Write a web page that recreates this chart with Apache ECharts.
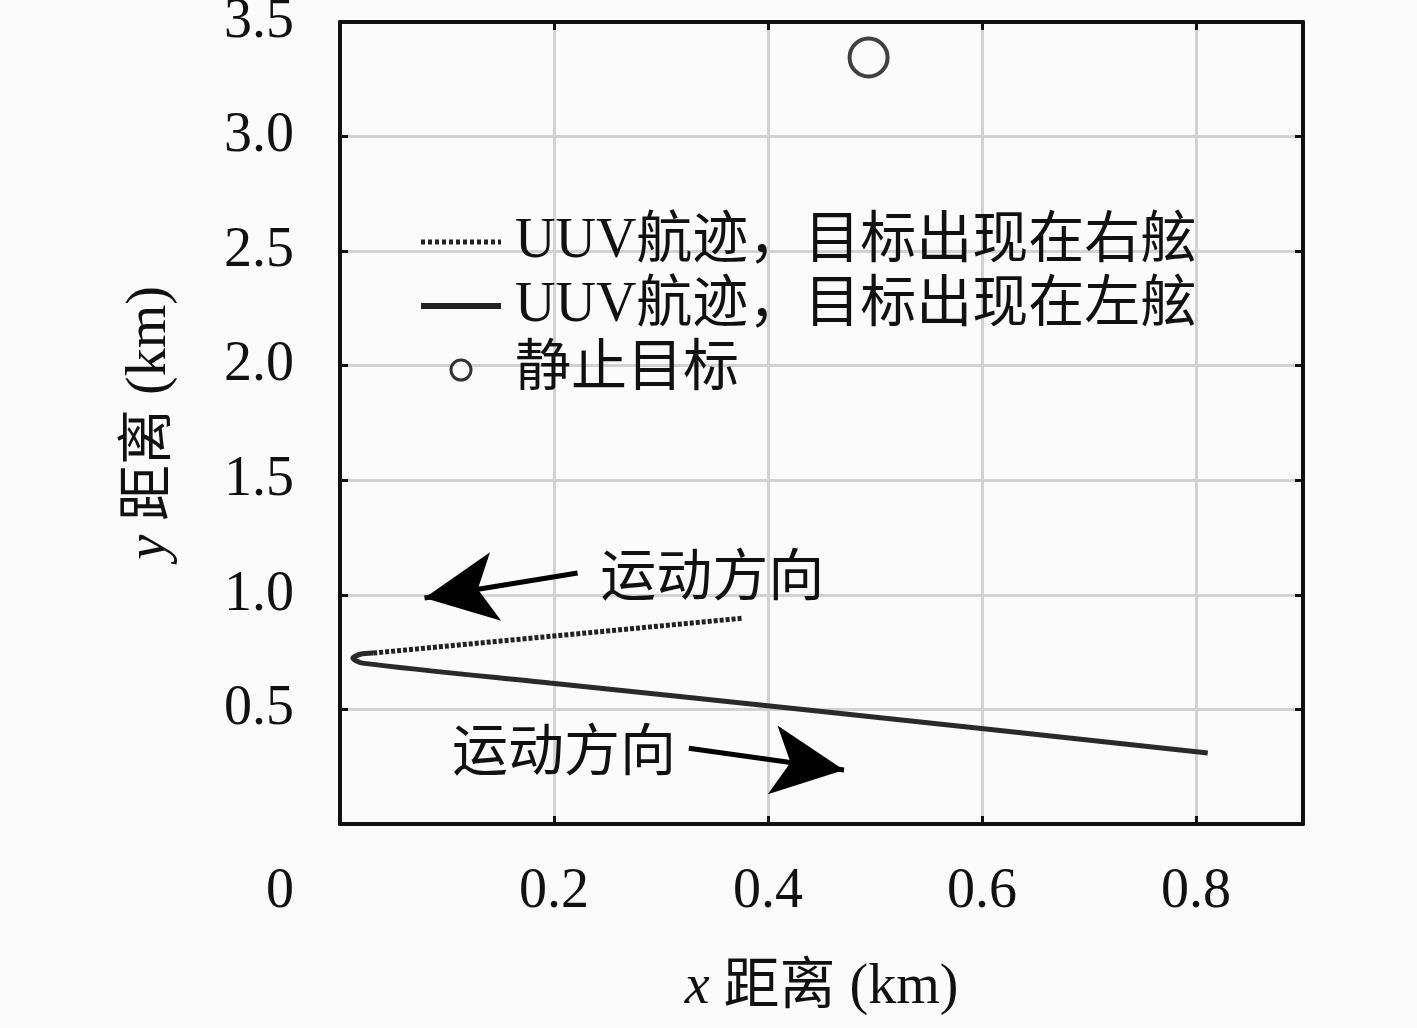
<!DOCTYPE html>
<html>
<head>
<meta charset="utf-8">
<script src="https://cdn.jsdelivr.net/npm/echarts@6/dist/echarts.min.js"></script>
<style>
html, body { margin: 0; padding: 0; background: #fbfbfb; }
#main { width: 1417px; height: 1028px; }
</style>
</head>
<body>
<div id="main"></div>
<script>
// data (km)
var seriesNames = ['UUV航迹，目标出现在右舷', 'UUV航迹，目标出现在左舷', '静止目标'];
var rightX = [0.031, 0.199, 0.376];
var rightY = [0.746, 0.820, 0.898];
var leftX = [0.811, 0.457, 0.196, 0.021, 0.012, 0.019, 0.031];
var leftY = [0.310, 0.488, 0.615, 0.702, 0.724, 0.741, 0.746];
var targetX = [0.494];
var targetY = [3.345];
var arrowText = '运动方向';
var arrowTail = [[0.222, 1.095], [0.326, 0.331]];
var arrowTip = [[0.079, 0.986], [0.471, 0.236]];
var xName = 'x';
var yName = 'y';
var axisText = ' 距离 (km)';

var serif = '"Liberation Serif", "DejaVu Serif", "Noto Sans CJK SC", serif';
var cjk = '"Liberation Serif", "Noto Sans CJK SC", sans-serif';
var ink = '#111';
var bg = '#fbfbfb';

function pairs(xs, ys) {
    var out = [];
    for (var i = 0; i < xs.length; i++) out.push([xs[i], ys[i]]);
    return out;
}

var mChart = echarts.init(document.getElementById('main'));

var arrows = [];
for (var i = 0; i < arrowTail.length; i++) {
    arrows.push([{coord: arrowTail[i]}, {coord: arrowTip[i]}]);
}

// box around the plot: the axes on all four sides, ticks inside
function boxAxis(pos) {
    return {
        type: 'value',
        position: pos,
        axisLine: {onZero: false, lineStyle: {color: ink, width: 4}},
        axisTick: {inside: true, length: 8, lineStyle: {color: ink, width: 3}},
        axisLabel: {show: false},
        splitLine: {show: false}
    };
}
var xTop = boxAxis('top');
xTop.min = 0; xTop.max = 0.9; xTop.interval = 0.2;
var yRight = boxAxis('right');
yRight.min = 0; yRight.max = 3.5; yRight.interval = 0.5;

var option = {
    backgroundColor: bg,
    animation: false,
    grid: {left: 340, right: 114, top: 22, bottom: 204, outerBoundsMode: 'none', containLabel: false},
    legend: {
        orient: 'vertical',
        left: 413,
        top: 208,
        itemWidth: 80,
        itemHeight: 20,
        itemGap: 6,
        textStyle: {fontFamily: cjk, fontSize: 56, color: ink, lineHeight: 58, padding: [0, 0, 0, 9]},
        data: [
            {name: seriesNames[0], itemStyle: {opacity: 0}, lineStyle: {color: '#222', width: 5, type: [4, 3]}},
            {name: seriesNames[1], itemStyle: {opacity: 0}, lineStyle: {color: '#222', width: 6}},
            {name: seriesNames[2], icon: 'circle', itemStyle: {color: bg, borderColor: '#000', borderWidth: 3}}
        ]
    },
    xAxis: [{
        type: 'value',
        min: 0,
        max: 0.9,
        interval: 0.2,
        name: '{i|' + xName + '}' + axisText,
        nameLocation: 'middle',
        nameGap: 136,
        nameTextStyle: {fontFamily: cjk, fontSize: 56, color: ink, rich: {i: {fontFamily: serif, fontStyle: 'italic', fontSize: 56, color: ink}}},
        axisLine: {onZero: false, lineStyle: {color: ink, width: 4}},
        axisTick: {inside: true, length: 8, lineStyle: {color: ink, width: 3}},
        axisLabel: {
            margin: 40,
            fontFamily: serif,
            fontSize: 56,
            color: ink,
            showMaxLabel: false,
            formatter: function (v) {
                if (v === 0) return '{o|0}';
                if (v > 0.85) return '';
                return v.toFixed(1);
            },
            rich: {o: {fontFamily: serif, fontSize: 56, color: ink, padding: [0, 120, 0, 0]}}
        },
        splitLine: {lineStyle: {color: '#d2d2d2', width: 3}}
    }, xTop],
    yAxis: [{
        type: 'value',
        min: 0,
        max: 3.5,
        interval: 0.5,
        name: '{i|' + yName + '}' + axisText,
        nameLocation: 'middle',
        nameGap: 162,
        nameTextStyle: {fontFamily: cjk, fontSize: 56, color: ink, rich: {i: {fontFamily: serif, fontStyle: 'italic', fontSize: 56, color: ink}}},
        axisLine: {onZero: false, lineStyle: {color: ink, width: 4}},
        axisTick: {inside: true, length: 8, lineStyle: {color: ink, width: 3}},
        axisLabel: {
            margin: 46,
            fontFamily: serif,
            fontSize: 56,
            color: ink,
            formatter: function (v) { return v === 0 ? '' : v.toFixed(1); }
        },
        splitLine: {lineStyle: {color: '#d2d2d2', width: 3}}
    }, yRight],
    series: [{
        name: seriesNames[0],
        type: 'line',
        data: pairs(rightX, rightY),
        symbol: 'none',
        color: '#222',
        lineStyle: {color: '#222', width: 5, type: [4, 2]}
    }, {
        name: seriesNames[1],
        type: 'line',
        data: pairs(leftX, leftY),
        symbol: 'none',
        smooth: 0.3,
        color: '#333',
        lineStyle: {color: '#2a2a2a', width: 5},
        markLine: {
            silent: true,
            symbol: ['none', 'arrow'],
            symbolSize: [52, 72],
            precision: 3,
            lineStyle: {color: '#000', width: 5, type: 'solid'},
            label: {
                show: true,
                position: 'start',
                distance: 18,
                offset: [5, 10],
                formatter: arrowText,
                fontFamily: cjk,
                fontSize: 56,
                color: ink
            },
            data: arrows
        }
    }, {
        name: seriesNames[2],
        type: 'scatter',
        data: pairs(targetX, targetY),
        symbol: 'circle',
        symbolSize: 38,
        itemStyle: {color: bg, borderColor: '#111', borderWidth: 4}
    }]
};

mChart.setOption(option);
</script>
</body>
</html>
